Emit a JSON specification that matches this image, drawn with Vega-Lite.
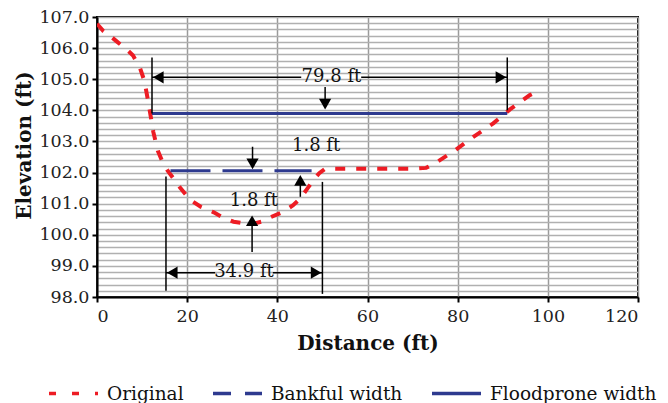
{
  "$schema": "https://vega.github.io/schema/vega-lite/v6.json",
  "autosize": {"type": "none"},
  "width": 541,
  "height": 280,
  "padding": {"left": 97, "top": 17, "right": 30, "bottom": 106},
  "config": {
    "font": "DejaVu Serif",
    "view": {"stroke": "black", "strokeWidth": 2},
    "axis": {"labelFont": "DejaVu Serif", "titleFont": "DejaVu Serif", "labelColor": "#222", "titleColor": "#111"}
  },
  "datasets": {
    "original": [
      {"x": 0, "y": 106.78}, {"x": 1.4, "y": 106.55}, {"x": 3, "y": 106.38}, {"x": 4.5, "y": 106.2},
      {"x": 6.5, "y": 105.97}, {"x": 8, "y": 105.76}, {"x": 9.5, "y": 105.38}, {"x": 10.5, "y": 104.95},
      {"x": 11.4, "y": 104.25}, {"x": 12.5, "y": 103.3}, {"x": 13.5, "y": 102.7}, {"x": 14.5, "y": 102.35},
      {"x": 15.6, "y": 102.08}, {"x": 17, "y": 101.8}, {"x": 18.5, "y": 101.5}, {"x": 20.7, "y": 101.12},
      {"x": 23, "y": 100.9}, {"x": 25.9, "y": 100.72}, {"x": 28, "y": 100.55}, {"x": 30.3, "y": 100.42},
      {"x": 32.5, "y": 100.37}, {"x": 34.7, "y": 100.36}, {"x": 36.5, "y": 100.42}, {"x": 37.8, "y": 100.52},
      {"x": 41.3, "y": 100.74}, {"x": 43.5, "y": 100.95}, {"x": 45.1, "y": 101.17}, {"x": 46.5, "y": 101.45},
      {"x": 48, "y": 101.76}, {"x": 49.3, "y": 101.98}, {"x": 50.6, "y": 102.12}, {"x": 55, "y": 102.12},
      {"x": 60, "y": 102.12}, {"x": 65, "y": 102.12}, {"x": 70, "y": 102.12}, {"x": 73, "y": 102.15},
      {"x": 75, "y": 102.3}, {"x": 79.5, "y": 102.72}, {"x": 83.5, "y": 103.15}, {"x": 87.9, "y": 103.58},
      {"x": 91.6, "y": 104.03}, {"x": 96, "y": 104.49}, {"x": 98.5, "y": 104.65}
    ],
    "bankful": [
      {"series": "Bankful width", "x": 16.3, "y": 102.06},
      {"series": "Bankful width", "x": 47.6, "y": 102.06}
    ],
    "flood": [
      {"series": "Floodprone width", "x": 12.2, "y": 103.9},
      {"series": "Floodprone width", "x": 91, "y": 103.9}
    ],
    "legend": [
      {"series": "Original", "x": 0, "y": 98},
      {"series": "Bankful width", "x": 0, "y": 98},
      {"series": "Floodprone width", "x": 0, "y": 98}
    ],
    "rules": [
      {"x": 12.2, "y": 103.9, "x2": 12.2, "y2": 105.7},
      {"x": 91, "y": 104.0, "x2": 91, "y2": 105.7},
      {"x": 12.2, "y": 105.06, "x2": 45.3, "y2": 105.06},
      {"x": 58.6, "y": 105.06, "x2": 91, "y2": 105.06},
      {"x": 50.6, "y": 104.75, "x2": 50.6, "y2": 104.2},
      {"x": 15.3, "y": 101.87, "x2": 15.3, "y2": 98.2},
      {"x": 50, "y": 101.7, "x2": 50, "y2": 98.1},
      {"x": 15.3, "y": 98.78, "x2": 26.2, "y2": 98.78},
      {"x": 39, "y": 98.78, "x2": 50, "y2": 98.78},
      {"x": 34.5, "y": 102.83, "x2": 34.5, "y2": 102.3},
      {"x": 45.1, "y": 101.22, "x2": 45.1, "y2": 101.8},
      {"x": 34.4, "y": 99.45, "x2": 34.4, "y2": 100.5}
    ],
    "heads": [
      {"shape": "triangle-left", "x": 13.6, "y": 105.06},
      {"shape": "triangle-right", "x": 89.6, "y": 105.06},
      {"shape": "triangle-down", "x": 50.6, "y": 104.2},
      {"shape": "triangle-left", "x": 16.7, "y": 98.78},
      {"shape": "triangle-right", "x": 48.6, "y": 98.78},
      {"shape": "triangle-down", "x": 34.5, "y": 102.28},
      {"shape": "triangle-up", "x": 45.1, "y": 101.75},
      {"shape": "triangle-up", "x": 34.4, "y": 100.45}
    ],
    "labels": [
      {"label": "79.8 ft", "x": 52, "y": 105.06},
      {"label": "1.8 ft", "x": 48.6, "y": 102.85},
      {"label": "1.8 ft", "x": 34.8, "y": 101.1},
      {"label": "34.9 ft", "x": 32.6, "y": 98.8}
    ]
  },
  "encoding": {
    "x": {
      "field": "x", "type": "quantitative",
      "scale": {"domain": [0, 120], "nice": false, "zero": false},
      "axis": {
        "title": "Distance (ft)", "values": [0, 20, 40, 60, 80, 100, 120],
        "grid": true, "gridColor": "#9a9a9a", "gridWidth": 1.5,
        "domainColor": "black", "domainWidth": 2, "tickColor": "black", "tickWidth": 2, "tickSize": 5,
        "labelFontSize": 17.5, "labelPadding": 5, "titleFontSize": 20, "titleFontWeight": "bold", "titlePadding": 9
      }
    },
    "y": {
      "field": "y", "type": "quantitative",
      "scale": {"domain": [98, 107], "nice": false, "zero": false},
      "axis": {
        "title": "Elevation (ft)",
        "values": [98, 98.2, 98.4, 98.6, 98.8, 99, 99.2, 99.4, 99.6, 99.8, 100, 100.2, 100.4, 100.6, 100.8, 101, 101.2, 101.4, 101.6, 101.8, 102, 102.2, 102.4, 102.6, 102.8, 103, 103.2, 103.4, 103.6, 103.8, 104, 104.2, 104.4, 104.6, 104.8, 105, 105.2, 105.4, 105.6, 105.8, 106, 106.2, 106.4, 106.6, 106.8, 107],
        "labelExpr": "abs(datum.value - round(datum.value)) < 0.001 ? format(datum.value, '.1f') : ''",
        "labelOverlap": false,
        "grid": true, "gridColor": "#b0b0b0", "gridWidth": 1.5,
        "domainColor": "black", "domainWidth": 2, "tickColor": "black", "tickWidth": 2, "tickSize": 5,
        "tickOpacity": {"condition": {"test": "abs(datum.value - round(datum.value)) < 0.001", "value": 1}, "value": 0},
        "labelFontSize": 17.5, "labelPadding": 3, "titleFontSize": 20, "titleFontWeight": "bold", "titlePadding": 4, "titleY": 128
      }
    }
  },
  "layer": [
    {
      "data": {"name": "original"},
      "mark": {"type": "line", "color": "#ed1c24", "strokeWidth": 4, "strokeDash": [10, 11], "clip": true},
      "encoding": {"order": {"field": "x", "type": "quantitative"}}
    },
    {
      "data": {"name": "bankful"},
      "mark": {"type": "line", "strokeWidth": 3, "strokeDash": [40, 12]},
      "encoding": {"color": {"field": "series", "type": "nominal"}}
    },
    {
      "data": {"name": "flood"},
      "mark": {"type": "line", "strokeWidth": 3},
      "encoding": {"color": {"field": "series", "type": "nominal"}}
    },
    {
      "data": {"name": "rules"},
      "mark": {"type": "rule", "color": "black", "strokeWidth": 1.5},
      "encoding": {"x2": {"field": "x2"}, "y2": {"field": "y2"}}
    },
    {
      "data": {"name": "heads"},
      "mark": {"type": "point", "filled": true, "color": "black", "opacity": 1, "size": 150},
      "encoding": {"shape": {"field": "shape", "type": "nominal", "scale": null}}
    },
    {
      "data": {"name": "labels"},
      "mark": {"type": "text", "fontSize": 18, "font": "DejaVu Serif", "color": "#111", "baseline": "middle", "align": "center"},
      "encoding": {"text": {"field": "label"}}
    },
    {
      "data": {"name": "legend"},
      "mark": {"type": "line", "strokeWidth": 4},
      "encoding": {
        "color": {
          "field": "series", "type": "nominal",
          "scale": {"domain": ["Original", "Bankful width", "Floodprone width"], "range": ["#ed1c24", "#2e3a8f", "#2e3a8f"]},
          "legend": {
            "title": null, "orient": "none", "direction": "horizontal", "legendX": -50, "legendY": 350,
            "symbolType": "stroke", "symbolSize": 2400, "symbolStrokeWidth": 3.5,
            "labelFont": "DejaVu Serif", "labelFontSize": 18.5, "labelColor": "#111", "labelOffset": 7,
            "columnPadding": 22, "labelLimit": 300
          }
        },
        "strokeDash": {
          "field": "series", "type": "nominal",
          "scale": {"domain": ["Original", "Bankful width", "Floodprone width"], "range": [[7, 16], [18, 14], [1, 0]]},
          "legend": {
            "title": null, "orient": "none", "direction": "horizontal", "legendX": -50, "legendY": 350,
            "symbolType": "stroke", "symbolSize": 2400, "symbolStrokeWidth": 3.5,
            "labelFont": "DejaVu Serif", "labelFontSize": 18.5, "labelColor": "#111", "labelOffset": 7,
            "columnPadding": 22, "labelLimit": 300
          }
        }
      }
    }
  ]
}
